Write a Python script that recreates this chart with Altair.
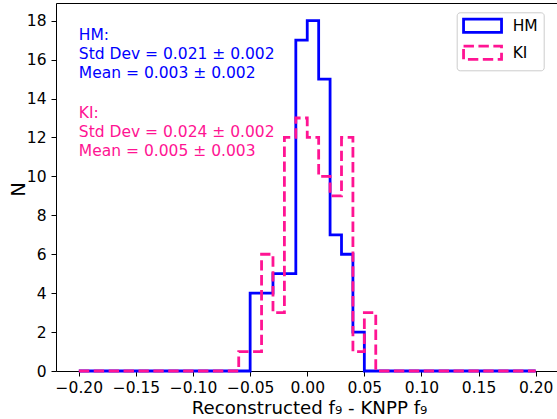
import altair as alt
import pandas as pd

# ---- data ----
series_names = ["HM", "KI"]
series_colors = ["#0000ff", "#ff1493"]
bin_edges = [round(-0.20 + 0.01 * i, 2) for i in range(41)]
hm_counts = [0] * 15 + [4, 4, 5, 5, 17, 18, 15, 7, 6, 2] + [0] * 15
ki_counts = [0] * 14 + [1, 1, 6, 3, 12, 13, 12, 10, 9, 12, 1, 3] + [0] * 14

x_ticks = [-0.20, -0.15, -0.10, -0.05, 0.00, 0.05, 0.10, 0.15, 0.20]
y_ticks = [0, 2, 4, 6, 8, 10, 12, 14, 16, 18]

ann_x = [-0.20, -0.20]
ann_y = [17, 13]
ann_text = [
    "HM:\nStd Dev = 0.021 \u00b1 0.002\nMean = 0.003 \u00b1 0.002",
    "KI:\nStd Dev = 0.024 \u00b1 0.002\nMean = 0.005 \u00b1 0.003",
]
ann_colors = series_colors

rows = []
for name, counts in zip(series_names, [hm_counts, ki_counts]):
    for i, e in enumerate(bin_edges):
        rows.append({"edge": e, "count": counts[i] if i < len(counts) else 0, "series": name})
df = pd.DataFrame(rows)
ann_df = pd.DataFrame({"x": ann_x, "y": ann_y, "text": ann_text, "col": ann_colors})

FONT = "DejaVu Sans"
x_scale = alt.Scale(domain=[-0.22, 0.2187], nice=False, zero=False)
y_scale = alt.Scale(domain=[0, 18.91], nice=False, zero=False)

legend = alt.Legend(
    title=None, orient="none", legendX=400.7, legendY=9.3,
    symbolType="M-1,-1H4.71V1H-1Z", symbolSize=177, symbolStrokeWidth=2.8,
    symbolFillColor="transparent",
    labelFontSize=15.5, labelFont=FONT, labelColor="black", labelOffset=34,
    padding=5, cornerRadius=3, strokeColor="#cccccc", fillColor="white",
    rowPadding=2,
)

lines = alt.Chart(df).mark_line(
    interpolate="step-after", strokeWidth=2.8, strokeJoin="miter", strokeCap="butt"
).encode(
    x=alt.X("edge:Q", scale=x_scale, axis=alt.Axis(
        values=x_ticks, format=".2f", labelFontSize=15.5, labelFont=FONT, labelColor="black",
        tickSize=5, tickColor="black", tickWidth=1, domainColor="black", domainWidth=1,
        labelPadding=4, grid=False, labelFlush=False,
        title="Reconstructed f\u2089 - KNPP f\u2089", titleFontSize=18.2, titleFont=FONT,
        titleFontWeight="normal", titleColor="black", titleX=253, titleY=42.3,
        titleBaseline="alphabetic", titleAlign="center")),
    y=alt.Y("count:Q", scale=y_scale, axis=alt.Axis(
        values=y_ticks, format="d", labelFontSize=15.5, labelFont=FONT, labelColor="black",
        tickSize=5, tickColor="black", tickWidth=1, domainColor="black", domainWidth=1,
        labelPadding=5, grid=False, labelFlush=False,
        title="N", titleFontSize=19.5, titleFont=FONT, titleFontWeight="normal",
        titleColor="black", titleX=-32, titleY=186, titleAngle=270,
        titleBaseline="alphabetic", titleAlign="center")),
    color=alt.Color("series:N", scale=alt.Scale(domain=series_names, range=series_colors), legend=legend),
    strokeDash=alt.StrokeDash("series:N", scale=alt.Scale(domain=series_names, range=[[1, 0], [10.4, 4.5]]), legend=legend),
)

text = alt.Chart(ann_df).mark_text(
    align="left", baseline="alphabetic", lineBreak="\n", lineHeight=18.8,
    fontSize=15.5, font=FONT
).encode(
    x=alt.X("x:Q", scale=x_scale, axis=alt.Axis(orient="top", labels=False, ticks=False, title=None,
                                                domain=True, domainColor="black", domainWidth=1, grid=False)),
    y=alt.Y("y:Q", scale=y_scale, axis=None),
    text="text:N",
    color=alt.Color("col:N", scale=None),
)

chart = alt.layer(lines, text).resolve_axis(x="independent", y="independent").properties(
    width=501, height=368,
    autosize=alt.AutoSizeParams(type="none"),
    padding={"left": 56, "top": 3, "right": 0, "bottom": 48},
).configure_view(stroke=None).configure(font=FONT)

chart.save("out.html", embed_options={"renderer": "svg", "actions": False})
